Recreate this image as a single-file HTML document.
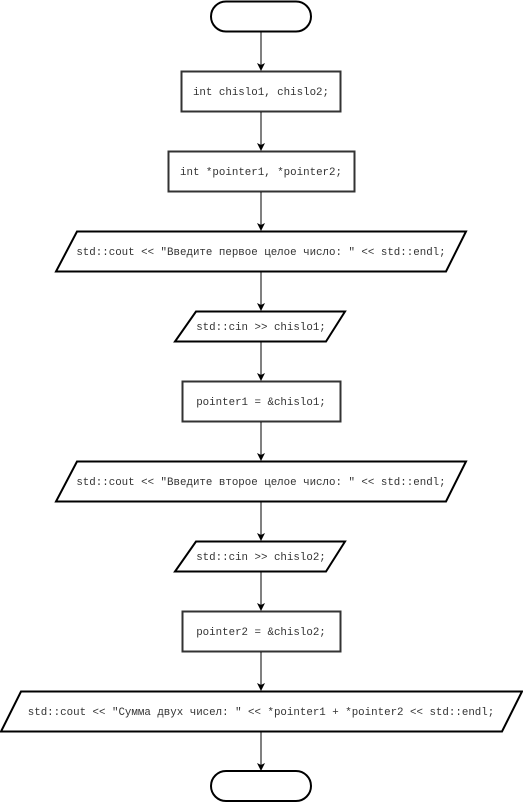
<!DOCTYPE html>
<html><head><meta charset="utf-8"><style>
html,body{margin:0;padding:0;background:#fff;}
svg{display:block}
text{font-family:"Liberation Mono","DejaVu Sans Mono",monospace;font-size:10.8px;fill:#333;text-anchor:middle;}
</style></head><body>
<svg width="523" height="802" viewBox="0 0 523 802" xmlns="http://www.w3.org/2000/svg">
<defs><marker id="a" markerWidth="8" markerHeight="8" refX="7" refY="4" orient="auto" markerUnits="userSpaceOnUse"><path d="M0,0 L8,4 L0,8 L2,4 z" fill="#000"/></marker></defs>
<g fill="#fff" stroke="#000" stroke-width="2">
<rect x="211" y="1.5" width="100" height="30" rx="15" ry="15"/>
<rect x="181.5" y="71.5" width="159" height="40" stroke="#333"/>
<rect x="168.5" y="151.5" width="186" height="40" stroke="#333"/>
<polygon points="77,231.5 466,231.5 446,271.5 56,271.5"/>
<polygon points="196,311.5 345,311.5 326,341.5 175,341.5"/>
<rect x="182.5" y="381.5" width="158" height="40" stroke="#333"/>
<polygon points="77,461.5 466,461.5 446,501.5 56,501.5"/>
<polygon points="196,541.5 345,541.5 326,571.5 175,571.5"/>
<rect x="182.5" y="611.5" width="158" height="40" stroke="#333"/>
<polygon points="21,691.5 522,691.5 502,731.5 1,731.5"/>
<rect x="211" y="771" width="100" height="30" rx="15" ry="15"/>
</g>
<g stroke="#000" stroke-width="1" marker-end="url(#a)">
<line x1="261" y1="32" x2="261" y2="70"/>
<line x1="261" y1="112" x2="261" y2="150"/>
<line x1="261" y1="192" x2="261" y2="230"/>
<line x1="261" y1="272" x2="261" y2="310"/>
<line x1="261" y1="342" x2="261" y2="380"/>
<line x1="261" y1="422" x2="261" y2="460"/>
<line x1="261" y1="502" x2="261" y2="540"/>
<line x1="261" y1="572" x2="261" y2="610"/>
<line x1="261" y1="652" x2="261" y2="690"/>
<line x1="261" y1="732" x2="261" y2="770"/>
</g>
<text x="261" y="95">int chislo1, chislo2;</text>
<text x="261" y="175">int *pointer1, *pointer2;</text>
<text x="261" y="255">std::cout &lt;&lt; "Введите первое целое число: " &lt;&lt; std::endl;</text>
<text x="261" y="330">std::cin &gt;&gt; chislo1;</text>
<text x="261" y="405">pointer1 = &amp;chislo1;</text>
<text x="261" y="485">std::cout &lt;&lt; "Введите второе целое число: " &lt;&lt; std::endl;</text>
<text x="261" y="560">std::cin &gt;&gt; chislo2;</text>
<text x="261" y="635">pointer2 = &amp;chislo2;</text>
<text x="261" y="715">std::cout &lt;&lt; "Сумма двух чисел: " &lt;&lt; *pointer1 + *pointer2 &lt;&lt; std::endl;</text>
</svg>
</body></html>
